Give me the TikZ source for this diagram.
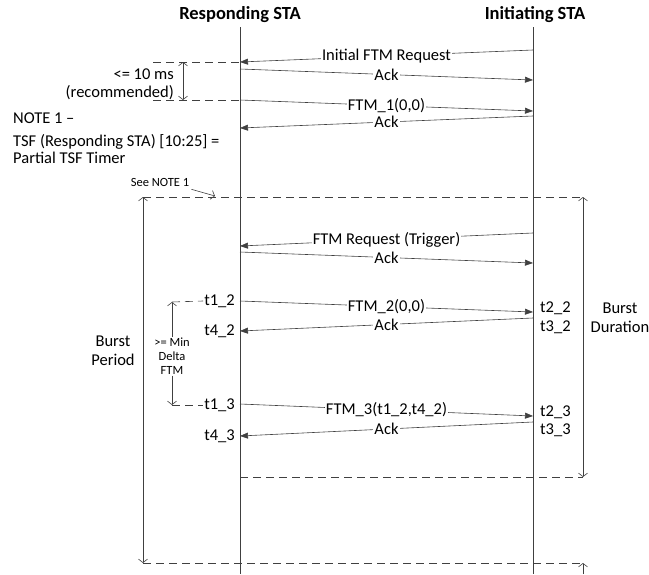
\documentclass[tikz,border=0pt]{standalone}
\usepackage{fontspec}
\setmainfont{Carlito}
\usetikzlibrary{arrows.meta}

\begin{document}
\begin{tikzpicture}[x=1pt, y=-1pt, font=\fontsize{16.5}{17}\selectfont,
    line/.style={draw=black!75, line width=0.6pt},
    msg/.style={line, -{Triangle[length=8pt,width=6pt]}},
    dashline/.style={line, dash pattern=on 8pt off 5pt},
    barb/.style={line, -{Straight Barb[length=3.5pt,width=9pt]}},
    span/.style={line, {Straight Barb[length=3.5pt,width=9pt]}-{Straight Barb[length=3.5pt,width=9pt]}},
    lbl/.style={fill=white, inner sep=1pt},
    stamp/.style={inner sep=1pt},
    small/.style={font=\fontsize{12.5}{14}\selectfont, align=center},
    title/.style={font=\bfseries\fontsize{18.5}{19}\selectfont}]
  \useasboundingbox (0,0) rectangle (649,574);

  % Lifelines
  \node[title] (resp) at (240,15) {Responding STA};
  \node[title] (init) at (535,15) {Initiating STA};
  \coordinate (respTop) at (240,27);
  \coordinate (respBot) at (240,574);
  \coordinate (initTop) at (533,27);
  \coordinate (initBot) at (533,574);
  \draw[line] (respTop) -- (respBot);
  \draw[line] (initTop) -- (initBot);

  % Frames towards Responding STA
  \foreach \n/\ya/\yb/\txt in {1/50/62/Initial FTM Request, 4/116/128/Ack,
      5/233/246/FTM Request (Trigger), 8/318/331/Ack, 10/422/436/Ack}{
    \coordinate (s\n) at (533,\ya);
    \coordinate (e\n) at (240,\yb);
    \draw[msg] (s\n) -- node[lbl]{\txt} (e\n);
  }

  % Frames towards Initiating STA
  \foreach \n/\ya/\yb/\txt in {2/69/80/Ack, 3/100/111/{FTM\_1(0,0)},
      6/252/263/Ack, 7/301/312/{FTM\_2(0,0)}, 9/404/416/{FTM\_3(t1\_2,t4\_2)}}{
    \coordinate (s\n) at (240,\ya);
    \coordinate (e\n) at (533,\yb);
    \draw[msg] (s\n) -- node[lbl]{\txt} (e\n);
  }

  % 10 ms window
  \coordinate (tenA) at (153,62);
  \coordinate (tenB) at (153,100);
  \draw[dashline] (tenA) -- (e1);
  \draw[dashline] (tenB) -- (s3);
  \coordinate (tenUp) at (183,62);
  \coordinate (tenDn) at (183,100);
  \draw[span] (tenUp) -- (tenDn);
  \node[anchor=east, inner sep=0pt] (tenms) at (174,74) {<= 10 ms};
  \node[anchor=east, inner sep=0pt] (recom) at (174,93) {(recommended)};

  % Note
  \node[anchor=west, inner sep=0pt] (note) at (13,118) {NOTE 1 –};
  \node[anchor=west, inner sep=0pt] (tsf) at (13,142) {TSF (Responding STA) [10:25] =};
  \node[anchor=west, inner sep=0pt] (timer) at (13,158) {Partial TSF Timer};
  \node[small, inner sep=0pt] (see) at (160,182) {See NOTE 1};
  \coordinate (seeTip) at (215,196);
  \draw[barb] (see.south east) ++(2,3) -- (seeTip);

  % Burst boundaries
  \coordinate (bpTop) at (143,197);
  \coordinate (bpBot) at (143,563);
  \coordinate (bdTop) at (583,197);
  \coordinate (bdMid) at (583,477);
  \coordinate (bdBot) at (583,563);
  \coordinate (nextBurst) at (583,574);
  \coordinate (endBurst) at (240,477);
  \draw[dashline] (bpTop) -- (bdTop);
  \draw[dashline] (endBurst) -- (bdMid);
  \draw[dashline] (bpBot) -- (bdBot);
  \draw[span] (bpTop) -- (bpBot);
  \draw[span] (bdTop) -- (bdMid);
  \draw[barb] (nextBurst) -- (bdBot);
  \node[align=center, font=\fontsize{16.5}{19}\selectfont] (bperiod) at (113,351) {Burst\\Period};
  \node[align=center, font=\fontsize{16.5}{19}\selectfont] (bdur) at (620,318) {Burst\\Duration};

  % Time stamps
  \node[stamp, anchor=east] (t12) at (236,301) {t1\_2};
  \node[stamp, anchor=east] (t42) at (236,331) {t4\_2};
  \node[stamp, anchor=east] (t13) at (236,405) {t1\_3};
  \node[stamp, anchor=east] (t43) at (236,436) {t4\_3};
  \node[stamp, anchor=west] (t22) at (539,308) {t2\_2};
  \node[stamp, anchor=west] (t32) at (539,327) {t3\_2};
  \node[stamp, anchor=west] (t23) at (539,412) {t2\_3};
  \node[stamp, anchor=west] (t33) at (539,430) {t3\_3};

  % Min delta FTM
  \node[small, inner sep=1pt] (delta) at (172,356) {>= Min\\Delta\\FTM};
  \coordinate (dTop) at (172,302);
  \coordinate (dBot) at (172,405);
  \draw[dashline] (dTop) -- (t12.west);
  \draw[dashline] (dBot) -- (t13.west);
  \draw[barb] (delta.north) -- (dTop);
  \draw[barb] (delta.south) -- (dBot);
\end{tikzpicture}
\end{document}
